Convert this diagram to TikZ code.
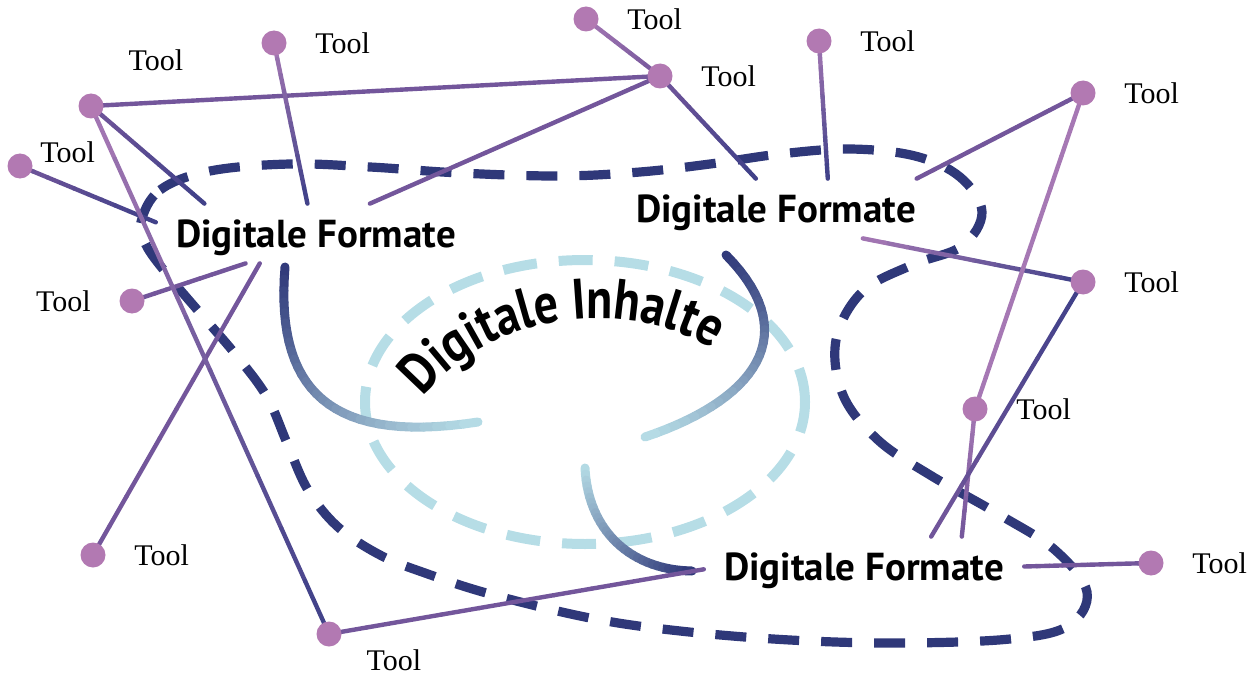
\documentclass[tikz,border=0pt]{standalone}
\usepackage{fontspec}
\setmainfont{Liberation Serif}
\newfontfamily\fmtfont{PT Sans}
\newfontfamily\inhfont{PT Sans}[FakeStretch=0.84]
\usetikzlibrary{positioning,calc,decorations.text}

\definecolor{dotpink}{RGB}{178,121,178}
\definecolor{linelight}{RGB}{166,120,180}
\definecolor{linepurple}{RGB}{115,86,155}
\definecolor{linenavy}{RGB}{62,64,136}
\definecolor{loopnavy}{RGB}{47,56,121}
\definecolor{loopsky}{RGB}{182,221,230}

\pgfdeclarelayer{bg}
\pgfsetlayers{bg,main}

\tikzset{
    tooldot/.style={circle,fill=dotpink,minimum size=12.5pt,inner sep=0pt},
    toollbl/.style={inner sep=0pt,font=\fontsize{15}{15}\selectfont},
    format/.style={font=\fmtfont\bfseries\fontsize{19.5}{19.5}\selectfont,anchor=base,
                   text height=21.5pt,text depth=8pt,inner xsep=10pt,inner ysep=0pt},
    conn/.style={line width=2.2pt,line cap=round},
    fade/.style={line width=4.5pt,line cap=round}
}

\newcommand\inhsize{\inhfont\bfseries\fontsize{28.5}{28.5}\selectfont}

% straight connector, colour running from #3 to #4
\newcommand\fadeline[4]{%
    \foreach \k [remember=\k as \j (initially 0),evaluate=\k as \pc using {int(105-10*\k)}] in {1,...,10}
        \draw[conn,color=#3!\pc!#4] ($(#1)!\j/10!(#2)$) -- ($(#1)!\k/10!(#2)$);}

% thick curve, colour running from #5 to #6
\newcommand\fadecurve[6]{%
    \path #1 .. controls #2 and #3 .. #4
        \foreach \k [evaluate=\k as \t using \k/30] in {0,...,30} {coordinate[pos=\t] (g\k)};
    \foreach \k [remember=\k as \j (initially 0),evaluate=\k as \pc using {int(100-(\k-0.5)*10/3)}] in {1,...,30}
        \draw[fade,color=#5!\pc!#6] (g\j) -- (g\k);}

\begin{document}
\begin{tikzpicture}[x=0.5pt,y=-0.5pt,node distance=14pt]

    \useasboundingbox (0,0) rectangle (1253,674);

    \node[format] (f1) at (316,247) {Digitale Formate};
    \node[format] (f2) at (776,222) {Digitale Formate};
    \node[format] (f3) at (864,580) {Digitale Formate};

    \foreach \n/\x/\y in {1/91/106, 2/274/43, 3/586/19, 4/660/76, 5/819/41, 6/20/166, 7/1083/93,
                          8/132/301, 9/1083/282, 10/975/409, 11/93/555, 12/329/634, 13/1151/563}
        \node[tooldot] (d\n) at (\x,\y) {};

    \foreach \n in {2,3,4,5,7,9,10,11,13}
        \node[toollbl,right=of d\n] (t\n) {Tool};
    \node[toollbl,above right=13pt and 14pt of d1] (t1) {Tool};
    \node[toollbl,right=3.5pt of d6,yshift=7pt] (t6) {Tool};
    \node[toollbl,left=of d8] (t8) {Tool};
    \node[toollbl,below right=3pt and 14pt of d12] (t12) {Tool};

    \path[decorate,decoration={text along path,text align=center,text={|\inhsize|Digitale Inhalte}}]
        (394,434) -- (420,400) .. controls (490,310) and (630,295) .. (718,352) -- (752,374);

    \begin{pgfonlayer}{bg}
        \draw[loopsky,line width=5pt,dash pattern=on 17pt off 11pt]
            (585,402) ellipse [x radius=110pt,y radius=71pt];

        \draw[loopnavy,line width=4.6pt,dash pattern=on 15.5pt off 11pt]
            plot[smooth cycle,tension=0.6] coordinates {
            (141,222) (160,190) (210,171) (290,164) (370,167) (460,173) (560,176) (640,172)
            (710,164) (780,154) (850,149) (915,156) (960,177) (982,212) (962,246) (912,265)
            (862,292) (836,340) (843,395) (878,440) (930,475) (1000,515) (1055,550) (1087,592)
            (1068,626) (1010,639) (900,643) (790,640) (680,631) (590,618) (490,594) (425,573)
            (380,555) (338,527) (308,490) (287,443) (267,397) (236,355) (200,313) (166,273) (146,245)};

        \fadecurve{(285,267)}{(275,390)}{(330,445)}{(478,422)}{loopnavy}{loopsky}
        \fadecurve{(726,255)}{(805,335)}{(755,400)}{(645,437)}{loopnavy}{loopsky}
        \fadecurve{(585,468)}{(588,530)}{(630,570)}{(692,571)}{loopsky}{loopnavy}

        \foreach \a/\b/\ca/\cb in {
            d1/d4/linepurple/linepurple, d3/d4/linelight/linepurple,
            d1/f1.165/linepurple/linenavy, d2/f1.106/linelight/linenavy,
            d4/f1.29/linepurple/linepurple, d6/f1.176/linepurple/linenavy,
            d8/f1.203/linepurple/linepurple, d11/f1.208/linepurple/linepurple,
            d1/d12/linelight/linenavy, d4/f2.124/linepurple/linenavy,
            d5/f2.30/linelight/linenavy, d7/f2.12/linepurple/linepurple,
            d9/f2.341/linenavy/linelight, d7/d10/linelight/linelight,
            d10/f3.17/linelight/linepurple, d9/f3.24/linenavy/linepurple,
            d12/f3.181/linepurple/linepurple, d13/f3.east/linepurple/linepurple}
            \fadeline{\a}{\b}{\ca}{\cb};
    \end{pgfonlayer}

\end{tikzpicture}
\end{document}
